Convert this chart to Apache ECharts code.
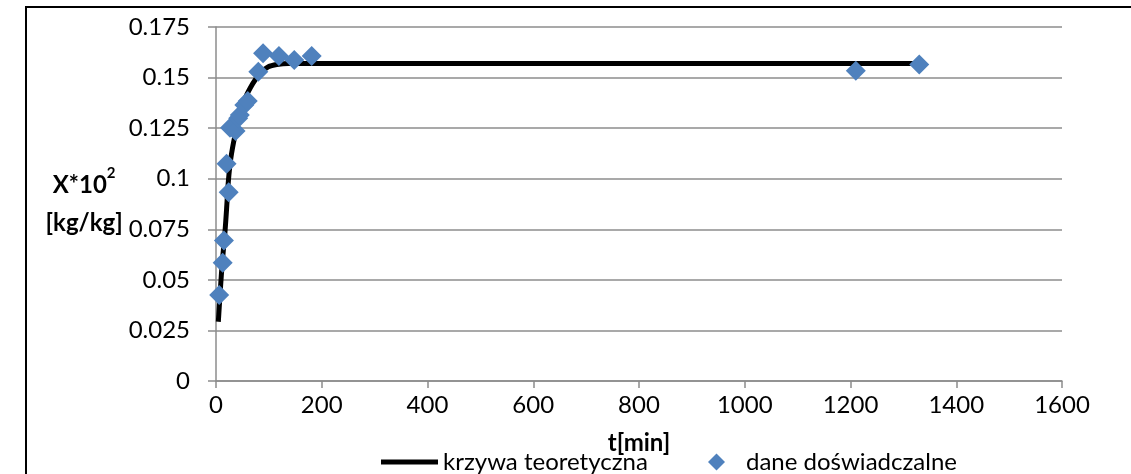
<!DOCTYPE html>
<html><head><meta charset="utf-8">
<script src="https://cdn.jsdelivr.net/npm/echarts@6/dist/echarts.min.js"></script>
<style>html,body{margin:0;padding:0;background:#fff;overflow:hidden}#c{width:1131px;height:474px}</style>
</head><body><div id="c"></div>
<script>
// theoretical curve
const curveT = [4.4, 6, 7.6, 10, 13, 17, 20, 23.3, 28, 36, 45, 55, 65, 74, 85, 99, 115, 137, 180, 300, 600, 900, 1200, 1330];
const curveX = [0.0293, 0.036, 0.0425, 0.052, 0.062, 0.0738, 0.085, 0.0985, 0.110, 0.1216, 0.1315, 0.1397, 0.1450, 0.1488, 0.1525, 0.1554, 0.1565, 0.157, 0.157, 0.157, 0.157, 0.157, 0.157, 0.157];
// experimental data
const expT = [6, 12.6, 15, 20, 24, 26.5, 37, 42, 45, 53.5, 60, 80, 89, 119, 148, 181, 1210, 1330];
const expX = [0.0425, 0.0585, 0.0694, 0.1074, 0.0933, 0.1252, 0.1236, 0.1299, 0.1315, 0.1364, 0.1384, 0.1529, 0.162, 0.1607, 0.1587, 0.1607, 0.1534, 0.1565];
const xTicks = [0, 200, 400, 600, 800, 1000, 1200, 1400, 1600];
const yTicks = [0, 0.025, 0.05, 0.075, 0.1, 0.125, 0.15, 0.175];

const FONT = 'Lato';
const FS = 24;
const chart = echarts.init(document.getElementById('c'), null, {renderer: 'canvas'});
chart.setOption({
  animation: false,
  backgroundColor: '#fff',
  textStyle: {fontFamily: FONT},
  grid: {left: 216, right: 69, top: 27, bottom: 93, containLabel: false},
  graphic: [{type: 'polyline', shape: {points: [[26, 520], [26, 7], [1160, 7]]}, style: {fill: 'none', stroke: '#000', lineWidth: 2}, silent: true, z: 0}],
  legend: [
    {data: [{name: 'krzywa teoretyczna', icon: 'rect'}], left: 381, top: 450, itemWidth: 57, itemHeight: 5, itemGap: 0, padding: 0,
     textStyle: {fontFamily: FONT, fontSize: FS, color: '#000'}},
    {data: [{name: 'dane doświadczalne', icon: 'diamond'}], left: 708, top: 450, itemWidth: 17, itemHeight: 17, padding: 0,
     textStyle: {fontFamily: FONT, fontSize: FS, color: '#000', padding: [0, 0, 0, 16]}}
  ],
  xAxis: {
    type: 'value', min: 0, max: 1600, interval: 200,
    name: 't[min]', nameLocation: 'middle', nameGap: 50,
    nameTextStyle: {fontFamily: FONT, fontSize: FS, fontWeight: 'bold', color: '#000'},
    axisLine: {show: true, lineStyle: {color: '#8c8c8c', width: 1.5}},
    axisTick: {show: true, length: 7, lineStyle: {color: '#8c8c8c', width: 1.5}},
    axisLabel: {fontFamily: FONT, fontSize: FS, color: '#000', margin: 12, formatter: v => xTicks.includes(v) ? String(v) : ''},
    splitLine: {show: false}
  },
  yAxis: {
    type: 'value', min: 0, max: 0.175, interval: 0.025,
    name: '{a|X*10}{s|2}\n{b|[kg/kg]}', nameLocation: 'middle', nameRotate: 0, nameGap: 106,
    nameTextStyle: {fontFamily: FONT, color: '#000', align: 'center', lineHeight: 38,
      rich: {a: {fontFamily: FONT, fontSize: FS, fontWeight: 'bold', color: '#000', lineHeight: 38},
             s: {fontFamily: FONT, fontSize: 15, fontWeight: 'bold', color: '#000', verticalAlign: 'top', lineHeight: 34},
             b: {fontFamily: FONT, fontSize: FS, fontWeight: 'bold', color: '#000', lineHeight: 38}}},
    axisLine: {show: true, lineStyle: {color: '#8c8c8c', width: 1.5}},
    axisTick: {show: true, length: 8, lineStyle: {color: '#8c8c8c', width: 1.5}},
    axisLabel: {fontFamily: FONT, fontSize: FS, color: '#000', margin: 26, formatter: v => {
      const t = yTicks.find(y => Math.abs(y - v) < 1e-9); return t === undefined ? '' : String(t);}},
    splitLine: {show: true, lineStyle: {color: '#8c8c8c', width: 1.5}}
  },
  series: [
    {name: 'krzywa teoretyczna', type: 'line', data: curveT.map((t, i) => [t, curveX[i]]), smooth: 0.3,
     showSymbol: false, symbol: 'none', lineStyle: {color: '#000', width: 5}, itemStyle: {color: '#000'}, z: 2},
    {name: 'dane doświadczalne', type: 'scatter', data: expT.map((t, i) => [t, expX[i]]), symbol: 'diamond', symbolSize: [20, 20],
     itemStyle: {color: '#4f81bd', opacity: 1}, z: 3}
  ]
});
</script></body></html>
